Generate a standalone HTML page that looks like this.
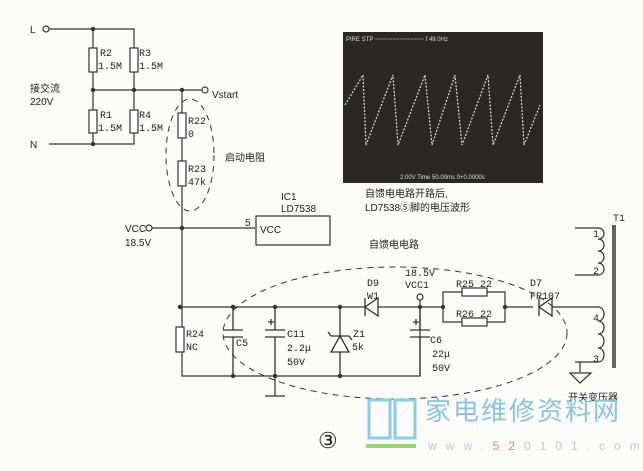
<!DOCTYPE html>
<html><head><meta charset="utf-8"><style>
html,body{margin:0;padding:0;background:#fff;}
svg{display:block;}
text{font-family:"Liberation Sans","Noto Sans CJK SC",sans-serif;fill:#222;font-size:10px;}
.m{font-family:"Liberation Mono","Noto Sans CJK SC",monospace;font-size:10px;}
</style></head><body>
<svg width="643" height="471" viewBox="0 0 643 471" xmlns="http://www.w3.org/2000/svg">
<rect width="643" height="471" fill="#fbfbfa"/>
<g stroke="#333" stroke-width="1.2" fill="none">
<circle cx="46" cy="29" r="3" fill="#fff"/>
<path d="M49 29H134V90M93 29V144M49 144H134V90M93 90H202"/>
<circle cx="205" cy="90" r="3" fill="#fff"/>
<path d="M182 90V307"/>
<path d="M152 228H255"/>
<circle cx="149" cy="228" r="3" fill="#fff"/>
<rect x="256" y="216" width="74" height="29"/>
<path d="M182 307H365M378 307H443M505 307H533M552 307H592"/>
<path d="M443 292V322H505V292ZM443 292H462M487 292H505M443 322H462M487 322H505"/>
<path d="M182 307V376H420V307M420 307V300"/>
<circle cx="420" cy="297" r="3" fill="#fff"/>
<path d="M275 376V396M265 396H285"/>
<path d="M575 228H598M575 275H598M592 307H598M575 362H598M580 362V372"/>
<path d="M598 228c8 0 8 11 0 11c8 0 8 12 0 12c8 0 8 12 0 12c8 0 8 12 0 12M598 307c8 0 8 14 0 14c8 0 8 13 0 13c8 0 8 14 0 14c8 0 8 14 0 14"/>
<path d="M613 225V368M615 225V368" stroke-width="1.5"/>
<path d="M570 373H591L580 383Z"/>
</g>
<g fill="#fff" stroke="#333" stroke-width="1.2">
<rect x="89" y="48" width="8" height="24"/><rect x="130" y="48" width="8" height="24"/>
<rect x="89" y="110" width="8" height="23"/><rect x="130" y="110" width="8" height="23"/>
<rect x="178" y="113" width="8" height="25"/><rect x="178" y="161" width="8" height="25"/>
<rect x="176" y="327" width="8" height="25"/>
<rect x="462" y="288" width="25" height="8"/><rect x="462" y="318" width="25" height="8"/>
</g>
<g fill="#333">
<circle cx="93" cy="29" r="2.2"/><circle cx="93" cy="90" r="2.2"/><circle cx="134" cy="90" r="2.2"/><circle cx="182" cy="90" r="2.2"/><circle cx="93" cy="144" r="2.2"/><circle cx="182" cy="228" r="2.2"/><circle cx="180" cy="307" r="2.2"/><circle cx="233" cy="307" r="2.2"/><circle cx="275" cy="307" r="2.2"/><circle cx="340" cy="307" r="2.2"/><circle cx="420" cy="307" r="2.2"/><circle cx="443" cy="307" r="2.2"/><circle cx="505" cy="307" r="2.2"/><circle cx="233" cy="376" r="2.2"/><circle cx="275" cy="376" r="2.2"/><circle cx="340" cy="376" r="2.2"/>
</g>
<g stroke="#333" stroke-width="1.3" fill="none">
<path d="M233 307V330M233 337V376M223 330H243M223 337H243"/>
<path d="M275 307V330M275 337V376M265 330H285M265 337H285M268 322H274M271 319V325"/>
<path d="M340 307V336M340 352V376M331 352H349L340 336ZM331 336H349M331 336L328 332M349 336L352 340"/>
<path d="M420 307V330M420 337V376M410 330H430M410 337H430M413 322H419M416 319V325"/>
<path d="M378 298V316L365 307ZM365 298V316"/>
<path d="M552 298V316L539 307ZM539 298V316"/>
</g>
<g fill="none" stroke="#333" stroke-width="1" stroke-dasharray="6,5">
<ellipse cx="190" cy="155" rx="24" ry="56"/>
<ellipse cx="395" cy="333" rx="172" ry="66"/>
</g>
<rect x="343" y="32" width="200" height="151" fill="#2a2826"/>
<polyline points="345,105 363,75 366,145 393,75 398,145 425,75 432,145 455,75 462,145 488,75 493,145 520,75 524,145 540,105" fill="none" stroke="#ddd" stroke-width="1.2" stroke-dasharray="2,1.5"/>
<text x="346" y="41" style="fill:#ddd;font-size:6px">PIRE STP ~~~~~~~~~~~~~~ f 49.0Hz</text>
<text x="400" y="179" style="fill:#ddd;font-size:6px">2.00V  Time 50.00ms  0+0.0000s</text>
<text x="30" y="33">L</text><text x="30" y="148">N</text>
<text x="100" y="56" class="m">R2</text><text x="98" y="69" class="m">1.5M</text>
<text x="139" y="56" class="m">R3</text><text x="139" y="69" class="m">1.5M</text>
<text x="100" y="118" class="m">R1</text><text x="98" y="131" class="m">1.5M</text>
<text x="139" y="118" class="m">R4</text><text x="139" y="131" class="m">1.5M</text>
<text x="30" y="92">接交流</text><text x="30" y="105">220V</text>
<text x="212" y="98">Vstart</text>
<text x="188" y="124" class="m">R22</text><text x="188" y="137" class="m">0</text>
<text x="188" y="172" class="m">R23</text><text x="188" y="185" class="m">47k</text>
<text x="225" y="161">启动电阻</text>
<text x="281" y="200">IC1</text><text x="281" y="212">LD7538</text>
<text x="245" y="226">5</text><text x="260" y="233">VCC</text>
<text x="125" y="232">VCC</text><text x="125" y="246">18.5V</text>
<text x="365" y="197">自馈电电路开路后,</text><text x="365" y="211">LD7538⑤脚的电压波形</text>
<text x="369" y="248">自馈电电路</text>
<text x="186" y="337" class="m">R24</text><text x="186" y="350" class="m">NC</text>
<text x="236" y="346" class="m">C5</text>
<text x="287" y="337" class="m">C11</text><text x="287" y="351" class="m">2.2μ</text><text x="287" y="365" class="m">50V</text>
<text x="353" y="337" class="m">Z1</text><text x="352" y="350" class="m">5k</text>
<text x="367" y="286" class="m">D9</text><text x="367" y="299" class="m">W1</text>
<text x="405" y="276" class="m">18.5V</text><text x="405" y="288" class="m">VCC1</text>
<text x="456" y="287" class="m">R25 22</text><text x="456" y="317" class="m">R26 22</text>
<text x="430" y="343" class="m">C6</text><text x="432" y="357" class="m">22μ</text><text x="432" y="371" class="m">50V</text>
<text x="530" y="286" class="m">D7</text><text x="530" y="299" class="m">FR107</text>
<text x="593" y="237" class="m">1</text><text x="593" y="274" class="m">2</text>
<text x="593" y="321" class="m">4</text><text x="593" y="362" class="m">3</text>
<text x="613" y="221" class="m">T1</text>
<text x="568" y="401">开关变压器</text>
<text x="318" y="448" style="font-family:'Liberation Serif',serif;font-size:22px">③</text>
<g fill="none" stroke="#8ccbe0" stroke-width="3">
<path d="M369 400H390V438H369ZM395 400H415V438H395Z"/>
</g>
<path d="M366 446H416" stroke="#9ed07a" stroke-width="4"/>
<text x="425" y="420" style="fill:#8cc4dc;font-size:26px;letter-spacing:2px">家电维修资料网</text>
<text x="428" y="450" style="fill:#c0c8d0;font-size:12px;letter-spacing:9px">www.<tspan style="fill:#e08080">52</tspan>0101.com</text>
</svg>
</body></html>
